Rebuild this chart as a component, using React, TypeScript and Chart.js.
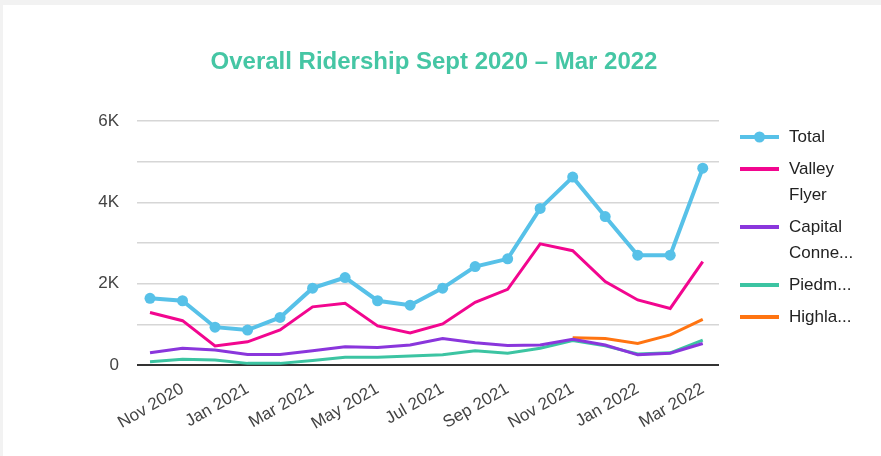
import React, { useEffect, useRef } from "react";
import { Chart, registerables } from "chart.js";

Chart.register(...registerables);

const months = [
  "Oct 2020", "Nov 2020", "Dec 2020", "Jan 2021", "Feb 2021", "Mar 2021",
  "Apr 2021", "May 2021", "Jun 2021", "Jul 2021", "Aug 2021", "Sep 2021",
  "Oct 2021", "Nov 2021", "Dec 2021", "Jan 2022", "Feb 2022", "Mar 2022",
];
const tickMonthIndexes = [1, 3, 5, 7, 9, 11, 13, 15, 17];

const total = [1640, 1580, 930, 860, 1170, 1890, 2150, 1580, 1470, 1890, 2420, 2610, 3850, 4620, 3650, 2700, 2700, 4840];
const valleyFlyer = [1290, 1090, 470, 570, 860, 1430, 1520, 960, 790, 1010, 1540, 1860, 2980, 2810, 2050, 1600, 1390, 2540];
const capitalConnector = [300, 410, 370, 260, 260, 350, 450, 430, 490, 650, 550, 480, 490, 630, 490, 250, 290, 530];
const piedmont = [80, 140, 120, 40, 40, 110, 190, 190, 220, 250, 350, 290, 410, 600, 470, 270, 300, 610];
const highlander = [null, null, null, null, null, null, null, null, null, null, null, null, null, 670, 650, 530, 740, 1120];

const seriesNames = ["Total", "Valley Flyer", "Capital Connector", "Piedmont", "Highlander"];
const legendLines = [["Total"], ["Valley", "Flyer"], ["Capital", "Conne..."], ["Piedm..."], ["Highla..."]];
const yTickLabels: Record<number, string> = { 0: "0", 2000: "2K", 4000: "4K", 6000: "6K" };
const titleText = "Overall Ridership Sept 2020 \u2013 Mar 2022";

const COLORS = ["#57c1e8", "#f2068f", "#8a36dc", "#3cc4a2", "#ff7411"];
const FONT = '"Liberation Sans", Arial, sans-serif';

const overlayPlugin = {
  id: "overlay",
  afterDraw(chart: any) {
    const ctx = chart.ctx as CanvasRenderingContext2D;
    ctx.save();
    // title
    ctx.font = `bold 24px ${FONT}`;
    ctx.fillStyle = "#45c6a4";
    ctx.textAlign = "center";
    ctx.textBaseline = "alphabetic";
    ctx.fillText(titleText, 431, 64);

    // legend
    const lineX0 = 737;
    const lineX1 = 776;
    const textX = 786;
    let y = 132;
    ctx.font = `17px ${FONT}`;
    ctx.textAlign = "left";
    ctx.textBaseline = "middle";
    chart.data.datasets.forEach((ds: any, i: number) => {
      const color = ds.borderColor;
      ctx.strokeStyle = color;
      ctx.lineWidth = 4;
      ctx.beginPath();
      ctx.moveTo(lineX0, y);
      ctx.lineTo(lineX1, y);
      ctx.stroke();
      if (ds.pointRadius > 0) {
        ctx.fillStyle = color;
        ctx.beginPath();
        ctx.arc((lineX0 + lineX1) / 2, y, 5.5, 0, Math.PI * 2);
        ctx.fill();
      }
      ctx.fillStyle = "#222";
      const lines = legendLines[i];
      lines.forEach((t, j) => ctx.fillText(t, textX, y + j * 26));
      y += lines.length * 26 + 6;
    });
    ctx.restore();
  },
};

export default function App() {
  const ref = useRef<HTMLCanvasElement>(null);
  useEffect(() => {
    if (!ref.current) return;
    const seriesData = [total, valleyFlyer, capitalConnector, piedmont, highlander];
    const chart = new Chart(ref.current, {
      type: "line",
      data: {
        datasets: seriesData.map((arr, i) => ({
          label: seriesNames[i],
          data: arr.map((v, idx) => ({ x: idx, y: v })),
          borderColor: COLORS[i],
          backgroundColor: COLORS[i],
          borderWidth: i === 0 ? 4 : 3,
          pointRadius: i === 0 ? 5.5 : 0,
          pointHoverRadius: i === 0 ? 5.5 : 0,
          pointBorderWidth: 0,
          tension: 0,
          spanGaps: false,
          order: i === 0 ? 0 : i,
        })),
      },
      options: {
        animation: false,
        responsive: false,
        maintainAspectRatio: false,
        layout: { padding: { top: 116, right: 162, left: 0, bottom: 0 } },
        plugins: {
          legend: { display: false },
          title: { display: false },
          tooltip: { enabled: false },
        },
        scales: {
          x: {
            type: "linear",
            min: -0.4,
            max: 17.5,
            grid: { display: false },
            border: { display: false },
            afterBuildTicks: (scale: any) => {
              scale.ticks = tickMonthIndexes.map((v) => ({ value: v }));
            },
            afterFit: (scale: any) => {
              scale.height = 91;
            },
            ticks: {
              autoSkip: false,
              minRotation: 30,
              maxRotation: 30,
              padding: 6,
              color: "#444",
              font: { family: FONT, size: 17 },
              callback: (v: any) => months[v as number] ?? "",
            },
          },
          y: {
            min: 0,
            max: 6000,
            border: { display: false },
            afterFit: (scale: any) => {
              scale.width = 134;
            },
            grid: {
              drawTicks: false,
              color: (c: any) => (c.tick && c.tick.value === 0 ? "#333" : "#d6d6d6"),
              lineWidth: (c: any) => (c.tick && c.tick.value === 0 ? 2 : 1.5),
            },
            ticks: {
              stepSize: 1000,
              padding: 18,
              color: "#444",
              font: { family: FONT, size: 17 },
              callback: (v: any) => yTickLabels[v as number] ?? "",
            },
          },
        },
      },
      plugins: [overlayPlugin],
    });
    return () => chart.destroy();
  }, []);

  return (
    <div style={{ position: "fixed", left: 0, top: 0, width: 881, height: 456, background: "#f2f2f2" }}>
      <div style={{ position: "absolute", left: 3, top: 5, width: 878, height: 451, background: "#fff" }}>
        <canvas ref={ref} width={878} height={451} style={{ display: "block", width: 878, height: 451 }} />
      </div>
    </div>
  );
}
